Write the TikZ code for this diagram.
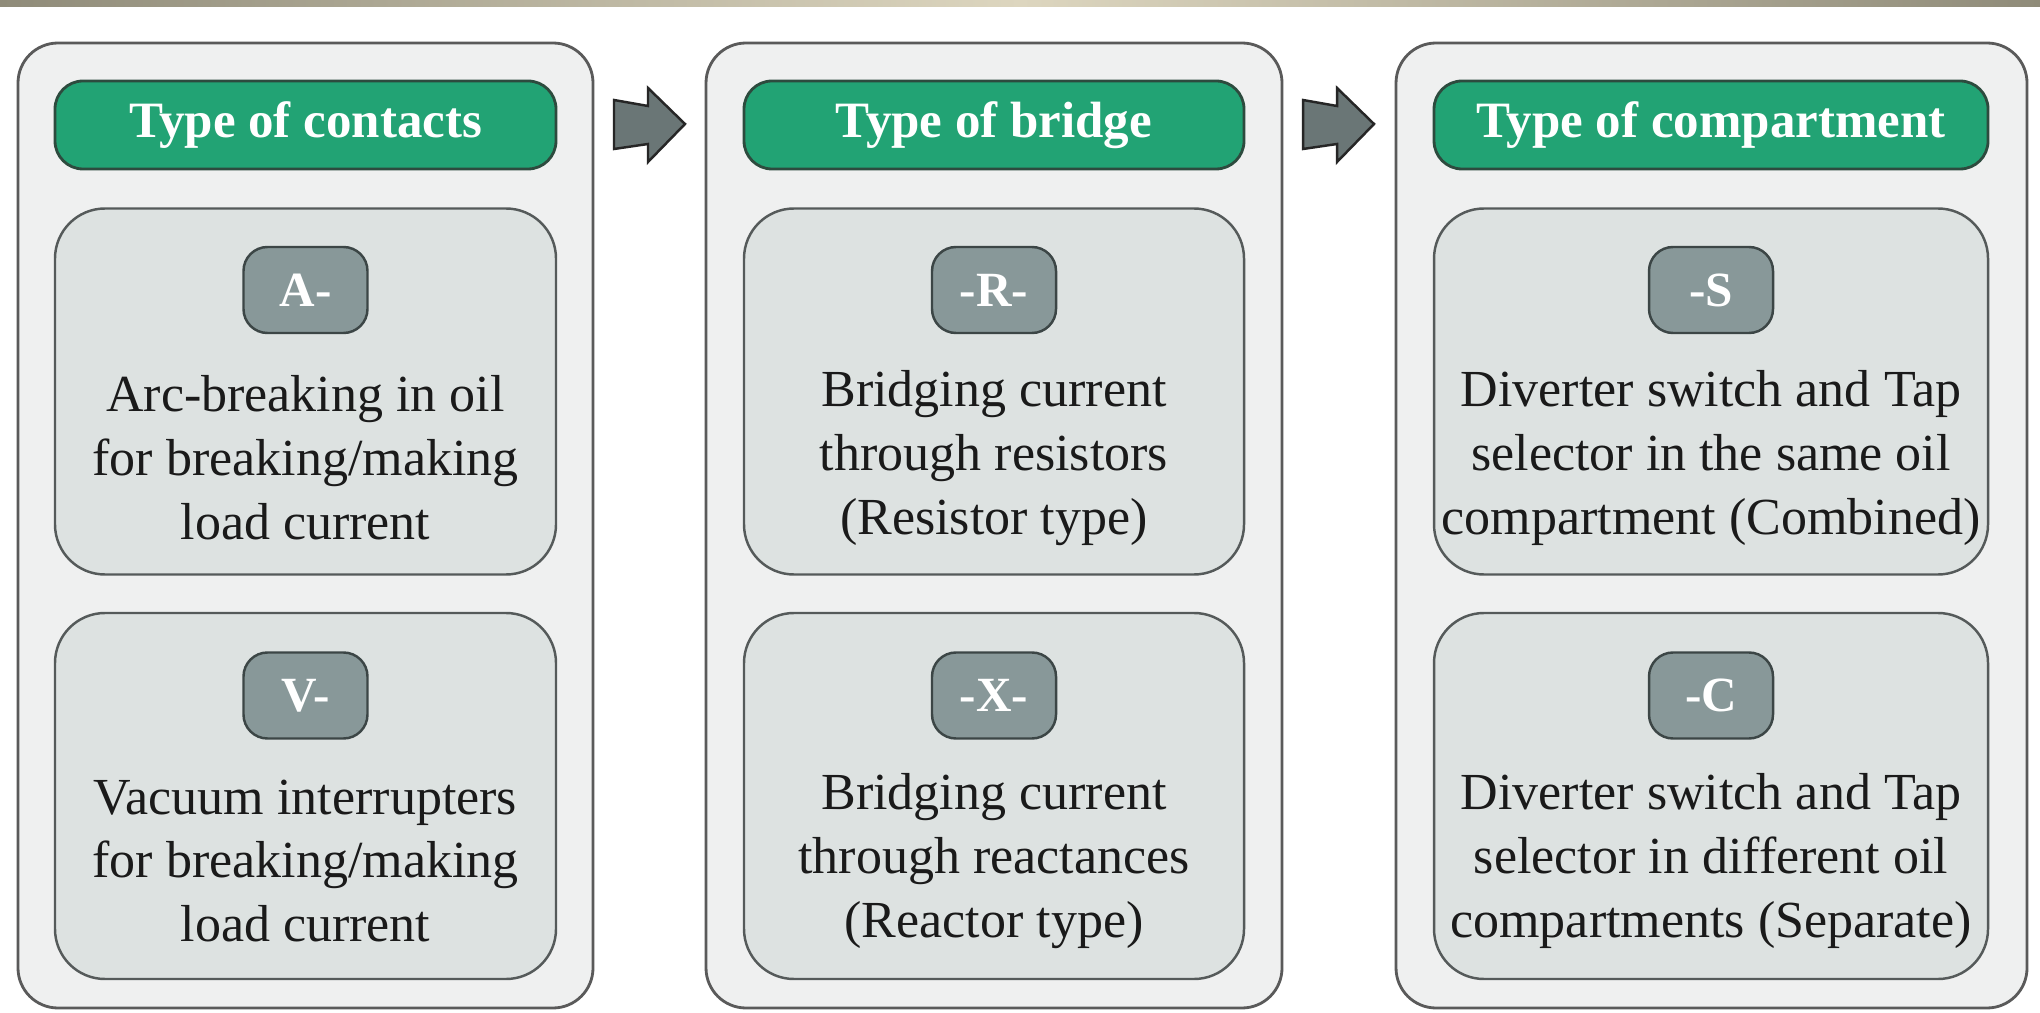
\documentclass[tikz,border=0pt]{standalone}
\usepackage{fontspec}
\setmainfont{Liberation Serif}
\definecolor{panelfill}{HTML}{EFF0F0}
\definecolor{panelline}{HTML}{5A5A5A}
\definecolor{headfill}{HTML}{22A374}
\definecolor{headline}{HTML}{2D4B3E}
\definecolor{boxfill}{HTML}{DDE2E1}
\definecolor{boxline}{HTML}{555A5A}
\definecolor{tagfill}{HTML}{889899}
\definecolor{tagline}{HTML}{3C4646}
\definecolor{arrowfill}{HTML}{6A7676}
\definecolor{bardark}{HTML}{8F8B79}
\definecolor{barlight}{HTML}{DDD6BF}
\definecolor{bodytext}{HTML}{1A1A1A}
\tikzset{
  panel/.style={draw=panelline, fill=panelfill, line width=0.8pt, rounded corners=4mm, inner sep=0pt, minimum height=96.5mm},
  header/.style={draw=headline, fill=headfill, line width=0.8pt, rounded corners=2.8mm, minimum height=8.8mm, inner sep=0pt, text=white, font=\fontsize{14.5}{17}\selectfont\bfseries},
  itembox/.style={draw=boxline, fill=boxfill, line width=0.7pt, rounded corners=5mm, minimum height=36.6mm, inner sep=0pt},
  tagbox/.style={draw=tagline, fill=tagfill, line width=0.7pt, rounded corners=2.4mm, minimum width=12.4mm, minimum height=8.6mm, inner sep=0pt, text=white, font=\fontsize{14}{16}\selectfont\bfseries},
  desc/.style={align=center, inner sep=0pt, text=bodytext, font=\fontsize{14.8}{18.2}\selectfont},
  flowarrow/.style={draw=black!85, fill=arrowfill, line width=0.7pt, line join=miter}
}
\begin{document}
\begin{tikzpicture}[x=0.1mm, y=-0.1mm]
\useasboundingbox (0,0) rectangle (2040,1013);
\fill[white] (0,0) rectangle (2040,1013);
\shade[left color=bardark, right color=bardark, middle color=barlight] (0,0) rectangle (2040,7);

% panels
\node[panel, minimum width=57.5mm] (p1) at (305.5,525.5) {};
\node[panel, minimum width=57.6mm] (p2) at (994,525.5) {};
\node[panel, minimum width=63.1mm] (p3) at (1711.5,525.5) {};

% headers
\node[header, minimum width=50.1mm] (h1) at (305.5,125) {Type of contacts};
\node[header, minimum width=50.0mm] (h2) at (994,125) {Type of bridge};
\node[header, minimum width=55.4mm] (h3) at (1711,125) {Type of compartment};

% item boxes
\node[itembox, minimum width=50.1mm] (b1a) at (305.5,391.5) {};
\node[itembox, minimum width=50.1mm] (b1b) at (305.5,796) {};
\node[itembox, minimum width=50.0mm] (b2a) at (994,391.5) {};
\node[itembox, minimum width=50.0mm] (b2b) at (994,796) {};
\node[itembox, minimum width=55.4mm] (b3a) at (1711,391.5) {};
\node[itembox, minimum width=55.4mm] (b3b) at (1711,796) {};

% tags
\node[tagbox] (t1a) at (305.5,290) {A-};
\node[tagbox] (t1b) at (305.5,695.5) {V-};
\node[tagbox] (t2a) at (994,290) {-R-};
\node[tagbox] (t2b) at (994,695.5) {-X-};
\node[tagbox] (t3a) at (1711,290) {-S};
\node[tagbox] (t3b) at (1711,695.5) {-C};

% descriptions
\node[desc] (d1a) at (305.5,458) {Arc-breaking in oil\\for breaking/making\\load current};
\node[desc] (d1b) at (305.5,861) {Vacuum interrupters\\for breaking/making\\load current};
\node[desc] (d2a) at (994,458) {Bridging current\\through resistors\\(Resistor type)};
\node[desc] (d2b) at (994,861) {Bridging current\\through reactances\\(Reactor type)};
\node[desc] (d3a) at (1711,458) {Diverter switch and Tap\\selector in the same oil\\compartment (Combined)};
\node[desc] (d3b) at (1711,861) {Diverter switch and Tap\\selector in different oil\\compartments (Separate)};

% arrows between panels
\coordinate (a1) at (614,124);
\coordinate (a2) at (1303,124);
\foreach \c in {a1,a2}{
  \draw[flowarrow] (\c) ++(0,-24) -- ++(34,6) -- ++(0,-18) -- ++(37,36) -- ++(-37,38) -- ++(0,-18) -- ++(-34,5) -- cycle;
}
\end{tikzpicture}
\end{document}
